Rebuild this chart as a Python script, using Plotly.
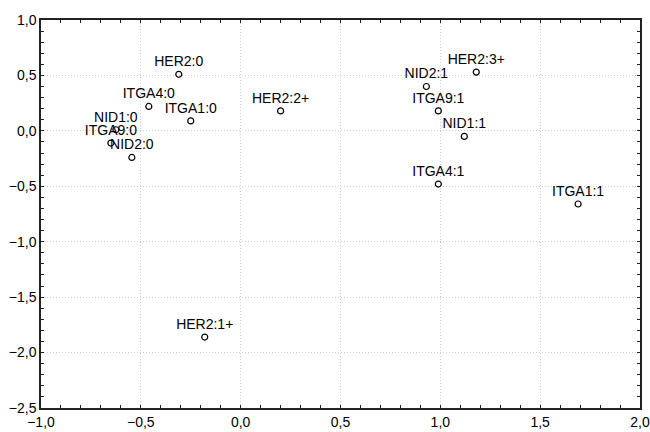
import plotly.graph_objects as go

labels = ["HER2:0", "ITGA4:0", "ITGA1:0", "NID1:0", "ITGA9:0", "NID2:0",
          "HER2:2+", "HER2:3+", "NID2:1", "ITGA9:1", "NID1:1", "ITGA4:1",
          "ITGA1:1", "HER2:1+"]
x_vals = [-0.31, -0.46, -0.25, -0.625, -0.65, -0.545,
          0.20, 1.18, 0.93, 0.99, 1.12, 0.99,
          1.69, -0.18]
y_vals = [0.51, 0.22, 0.09, 0.01, -0.11, -0.24,
          0.18, 0.53, 0.40, 0.18, -0.05, -0.48,
          -0.66, -1.86]

x_ticks = [-1.0, -0.5, 0.0, 0.5, 1.0, 1.5, 2.0]
y_ticks = [-2.5, -2.0, -1.5, -1.0, -0.5, 0.0, 0.5, 1.0]
x_range = [-1, 2]
y_range = [-2.5, 1]

FONT = "Liberation Sans, Arial"

fig = go.Figure()
fig.add_trace(go.Scatter(
    x=x_vals, y=y_vals, mode="markers+text", text=labels,
    textposition="top center",
    textfont=dict(family=FONT, size=14, color="#000"),
    marker=dict(symbol="circle-open", size=6, color="#000", line=dict(width=1.2)),
    hoverinfo="skip", cliponaxis=False,
))
# companion trace so the mirrored (top/right) tick axes are drawn
fig.add_trace(go.Scatter(x=[None], y=[None], xaxis="x2", yaxis="y2",
                         mode="markers", hoverinfo="skip", showlegend=False))

tick_style = dict(ticks="inside", ticklen=3, tickcolor="#222", tickwidth=1,
                  minor=dict(dtick=0.1, ticks="inside", ticklen=3,
                             tickcolor="#222", showgrid=False))

main = dict(
    showline=True, linecolor="#222", linewidth=1.5, mirror=True,
    showgrid=True, gridcolor="#cfcfcf", griddash="1px,2px", gridwidth=1,
    zeroline=False, tickformat=".1f", automargin=False,
    tickfont=dict(family=FONT, size=14, color="#000"),
    **tick_style,
)
sec = dict(showline=False, showgrid=False, zeroline=False, showticklabels=False,
           automargin=False, **tick_style)

fig.update_layout(
    width=650, height=432,
    margin=dict(l=41, r=10, t=20, b=24),
    paper_bgcolor="white", plot_bgcolor="white",
    separators=",.", showlegend=False,
    xaxis=dict(range=x_range, tickvals=x_ticks, **main),
    yaxis=dict(range=y_range, tickvals=y_ticks, **main),
    xaxis2=dict(range=x_range, tickvals=x_ticks, overlaying="x", side="top",
                anchor="y", **sec),
    yaxis2=dict(range=y_range, tickvals=y_ticks, overlaying="y", side="right",
                anchor="x", **sec),
)

fig.write_html("out.html", config={"displayModeBar": False},
               post_script="document.body.style.margin='0';document.body.style.overflow='hidden';")
